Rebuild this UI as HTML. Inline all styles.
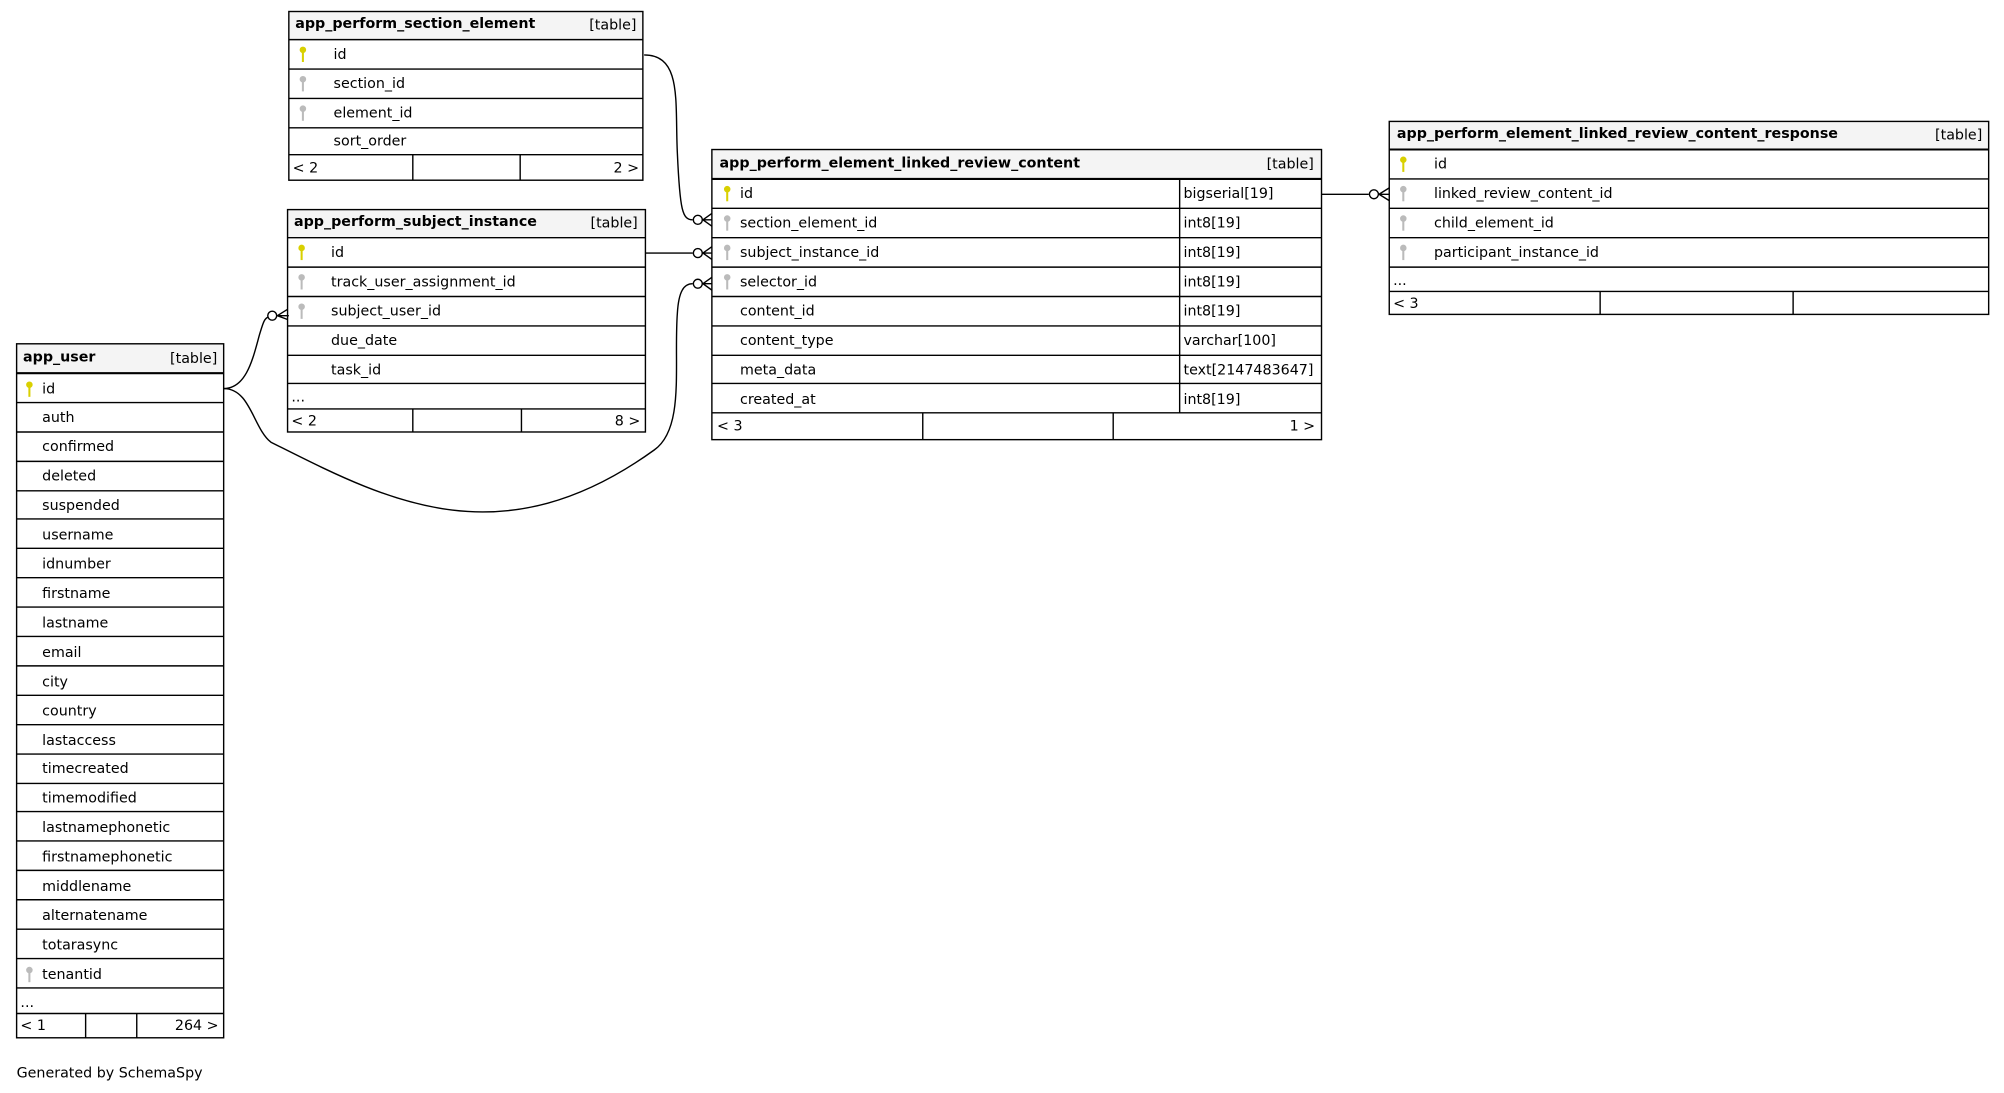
<!DOCTYPE html>
<html><head><meta charset="utf-8"><style>
html,body{margin:0;padding:0;background:#fff;}
svg{display:block;}
text{font-family:"DejaVu Sans","Liberation Sans",sans-serif;font-size:11.15px;fill:#000;}
.b{font-weight:bold;}
.e{text-anchor:end;}
.t{fill:none;stroke:#000;stroke-width:1.1;}
.h{fill:#f4f4f4;stroke:none;}
.l{stroke:#000;stroke-width:1.1;}
.c{fill:none;stroke:#000;stroke-width:1.1;}
.pk{fill:#d9d000;stroke:#d9d000;}
.fk{fill:#bbb;stroke:#bbb;}
</style></head><body>
<svg width="2004" height="1093" viewBox="0 0 1568 855.2" preserveAspectRatio="none" xmlns="http://www.w3.org/2000/svg">
<defs>
<g id="key"><circle cx="0" cy="-4" r="2.1" stroke-width="0.9"/><line x1="0" y1="-3" x2="0" y2="5.5" stroke-width="1.6"/></g>
</defs>

<!-- section element -->
<rect class="h" x="226" y="9" width="277" height="22"/>
<rect class="t" x="226" y="9" width="277" height="132"/>
<line class="l" x1="226" y1="31" x2="503" y2="31" stroke-width="1.6"/>
<line class="l" x1="226" y1="54" x2="503" y2="54"/>
<line class="l" x1="226" y1="77" x2="503" y2="77"/>
<line class="l" x1="226" y1="100" x2="503" y2="100"/>
<line class="l" x1="226" y1="121" x2="503" y2="121"/>
<line class="l" x1="323" y1="121" x2="323" y2="141"/>
<line class="l" x1="407" y1="121" x2="407" y2="141"/>
<text class="b" x="231" y="22">app_perform_section_element</text>
<text class="e" x="498" y="23">[table]</text>
<use href="#key" class="pk" x="237" y="43"/>
<use href="#key" class="fk" x="237" y="66"/>
<use href="#key" class="fk" x="237" y="89"/>
<text x="261" y="46">id</text>
<text x="261" y="69">section_id</text>
<text x="261" y="92">element_id</text>
<text x="261" y="114">sort_order</text>
<text x="229" y="135">&lt; 2</text>
<text class="e" x="500" y="135">2 &gt;</text>

<!-- subject instance -->
<rect class="h" x="225" y="164" width="280" height="22"/>
<rect class="t" x="225" y="164" width="280" height="174"/>
<line class="l" x1="225" y1="186" x2="505" y2="186" stroke-width="1.6"/>
<line class="l" x1="225" y1="209" x2="505" y2="209"/>
<line class="l" x1="225" y1="232" x2="505" y2="232"/>
<line class="l" x1="225" y1="255" x2="505" y2="255"/>
<line class="l" x1="225" y1="278" x2="505" y2="278"/>
<line class="l" x1="225" y1="300" x2="505" y2="300"/>
<line class="l" x1="225" y1="320" x2="505" y2="320"/>
<line class="l" x1="323" y1="320" x2="323" y2="338"/>
<line class="l" x1="408" y1="320" x2="408" y2="338"/>
<text class="b" x="230" y="177">app_perform_subject_instance</text>
<text class="e" x="499" y="178">[table]</text>
<use href="#key" class="pk" x="236" y="198"/>
<use href="#key" class="fk" x="236" y="221"/>
<use href="#key" class="fk" x="236" y="244"/>
<text x="259" y="201">id</text>
<text x="259" y="224">track_user_assignment_id</text>
<text x="259" y="247">subject_user_id</text>
<text x="259" y="270">due_date</text>
<text x="259" y="293">task_id</text>
<text x="228" y="314">...</text>
<text x="228" y="333">&lt; 2</text>
<text class="e" x="501" y="333">8 &gt;</text>

<!-- app_user -->
<rect class="h" x="13" y="269" width="162" height="23"/>
<rect class="t" x="13" y="269" width="162" height="543"/>
<g class="l">
<line x1="13" y1="292" x2="175" y2="292" stroke-width="1.6"/>
<line x1="13" y1="315" x2="175" y2="315"/><line x1="13" y1="338" x2="175" y2="338"/>
<line x1="13" y1="361" x2="175" y2="361"/><line x1="13" y1="384" x2="175" y2="384"/>
<line x1="13" y1="406" x2="175" y2="406"/><line x1="13" y1="429" x2="175" y2="429"/>
<line x1="13" y1="452" x2="175" y2="452"/><line x1="13" y1="475" x2="175" y2="475"/>
<line x1="13" y1="498" x2="175" y2="498"/><line x1="13" y1="521" x2="175" y2="521"/>
<line x1="13" y1="544" x2="175" y2="544"/><line x1="13" y1="567" x2="175" y2="567"/>
<line x1="13" y1="590" x2="175" y2="590"/><line x1="13" y1="613" x2="175" y2="613"/>
<line x1="13" y1="635" x2="175" y2="635"/><line x1="13" y1="658" x2="175" y2="658"/>
<line x1="13" y1="681" x2="175" y2="681"/><line x1="13" y1="704" x2="175" y2="704"/>
<line x1="13" y1="727" x2="175" y2="727"/><line x1="13" y1="750" x2="175" y2="750"/>
<line x1="13" y1="773" x2="175" y2="773"/><line x1="13" y1="793" x2="175" y2="793"/>
<line x1="67" y1="793" x2="67" y2="812"/><line x1="107" y1="793" x2="107" y2="812"/>
</g>
<text class="b" x="18" y="283">app_user</text>
<text class="e" x="170" y="284">[table]</text>
<use href="#key" class="pk" x="23" y="305"/>
<use href="#key" class="fk" x="23" y="763"/>
<text x="33" y="308">id</text>
<text x="33" y="330">auth</text>
<text x="33" y="353">confirmed</text>
<text x="33" y="376">deleted</text>
<text x="33" y="399">suspended</text>
<text x="33" y="422">username</text>
<text x="33" y="445">idnumber</text>
<text x="33" y="468">firstname</text>
<text x="33" y="491">lastname</text>
<text x="33" y="514">email</text>
<text x="33" y="537">city</text>
<text x="33" y="560">country</text>
<text x="33" y="583">lastaccess</text>
<text x="33" y="605">timecreated</text>
<text x="33" y="628">timemodified</text>
<text x="33" y="651">lastnamephonetic</text>
<text x="33" y="674">firstnamephonetic</text>
<text x="33" y="697">middlename</text>
<text x="33" y="720">alternatename</text>
<text x="33" y="743">totarasync</text>
<text x="33" y="766">tenantid</text>
<text x="16" y="788">...</text>
<text x="16" y="806">&lt; 1</text>
<text class="e" x="171" y="806">264 &gt;</text>

<!-- content -->
<rect class="h" x="557" y="117" width="477" height="23"/>
<g class="l">
<line x1="557" y1="140" x2="1034" y2="140" stroke-width="1.6"/>
<line x1="557" y1="163" x2="1034" y2="163"/><line x1="557" y1="186" x2="1034" y2="186"/>
<line x1="557" y1="209" x2="1034" y2="209"/><line x1="557" y1="232" x2="1034" y2="232"/>
<line x1="557" y1="255" x2="1034" y2="255"/><line x1="557" y1="278" x2="1034" y2="278"/>
<line x1="557" y1="300" x2="1034" y2="300"/><line x1="557" y1="323" x2="1034" y2="323"/>
<line x1="923" y1="140" x2="923" y2="323"/>
<line x1="722" y1="323" x2="722" y2="344"/><line x1="871" y1="323" x2="871" y2="344"/>
</g>
<rect class="t" x="557" y="117" width="477" height="227" stroke-width="3.4"/>
<text class="b" x="563" y="131">app_perform_element_linked_review_content</text>
<text class="e" x="1028" y="132">[table]</text>
<use href="#key" class="pk" x="569" y="152"/>
<use href="#key" class="fk" x="569" y="175"/>
<use href="#key" class="fk" x="569" y="198"/>
<use href="#key" class="fk" x="569" y="221"/>
<text x="579" y="155">id</text>
<text x="579" y="178">section_element_id</text>
<text x="579" y="201">subject_instance_id</text>
<text x="579" y="224">selector_id</text>
<text x="579" y="247">content_id</text>
<text x="579" y="270">content_type</text>
<text x="579" y="293">meta_data</text>
<text x="579" y="316">created_at</text>
<text x="926" y="155">bigserial[19]</text>
<text x="926" y="178">int8[19]</text>
<text x="926" y="201">int8[19]</text>
<text x="926" y="224">int8[19]</text>
<text x="926" y="247">int8[19]</text>
<text x="926" y="270">varchar[100]</text>
<text x="926" y="293">text[2147483647]</text>
<text x="926" y="316">int8[19]</text>
<text x="561" y="337">&lt; 3</text>
<text class="e" x="1029" y="337">1 &gt;</text>

<!-- response -->
<rect class="h" x="1087" y="95" width="469" height="22"/>
<rect class="t" x="1087" y="95" width="469" height="151"/>
<g class="l">
<line x1="1087" y1="117" x2="1556" y2="117" stroke-width="1.6"/>
<line x1="1087" y1="140" x2="1556" y2="140"/><line x1="1087" y1="163" x2="1556" y2="163"/>
<line x1="1087" y1="186" x2="1556" y2="186"/><line x1="1087" y1="209" x2="1556" y2="209"/>
<line x1="1087" y1="228" x2="1556" y2="228"/>
<line x1="1252" y1="228" x2="1252" y2="246"/><line x1="1403" y1="228" x2="1403" y2="246"/>
</g>
<text class="b" x="1093" y="108">app_perform_element_linked_review_content_response</text>
<text class="e" x="1551" y="109">[table]</text>
<use href="#key" class="pk" x="1098" y="129"/>
<use href="#key" class="fk" x="1098" y="152"/>
<use href="#key" class="fk" x="1098" y="175"/>
<use href="#key" class="fk" x="1098" y="198"/>
<text x="1122" y="132">id</text>
<text x="1122" y="155">linked_review_content_id</text>
<text x="1122" y="178">child_element_id</text>
<text x="1122" y="201">participant_instance_id</text>
<text x="1090" y="223">...</text>
<text x="1090" y="241">&lt; 3</text>

<!-- connectors -->
<path class="c" d="M504,43 C534,43 528,80 530,120 C532,165 534,172 542,172"/>
<circle class="c" cx="546" cy="172" r="3.5"/>
<path class="c" d="M549.5,172 L557,172 M550,172 L557,167 M550,172 L557,177"/>

<path class="c" d="M505,198 L542,198"/>
<circle class="c" cx="546" cy="198" r="3.5"/>
<path class="c" d="M549.5,198 L557,198 M550,198 L557,193 M550,198 L557,203"/>

<path class="c" d="M175,304 C196,304 198,335 212,346 C300,390 390,440 512,352 C536,335 527,285 530,245 C531,228 535,222 542,222"/>
<circle class="c" cx="546" cy="222" r="3.5"/>
<path class="c" d="M549.5,222 L557,222 M550,222 L557,217 M550,222 L557,227"/>

<path class="c" d="M175,304 C193,304 198,280 203,262 C206,252 207,249 210,248"/>
<circle class="c" cx="213" cy="247" r="3.5"/>
<path class="c" d="M216.5,247 L226,247 M217,247 L225,242 M217,247 L225,250"/>

<path class="c" d="M1034,152 L1071,152"/>
<circle class="c" cx="1075" cy="152" r="3.5"/>
<path class="c" d="M1078.5,152 L1087,152 M1079,152 L1087,147 M1079,152 L1087,157"/>

<text x="13" y="843">Generated by SchemaSpy</text>
</svg>
</body></html>
